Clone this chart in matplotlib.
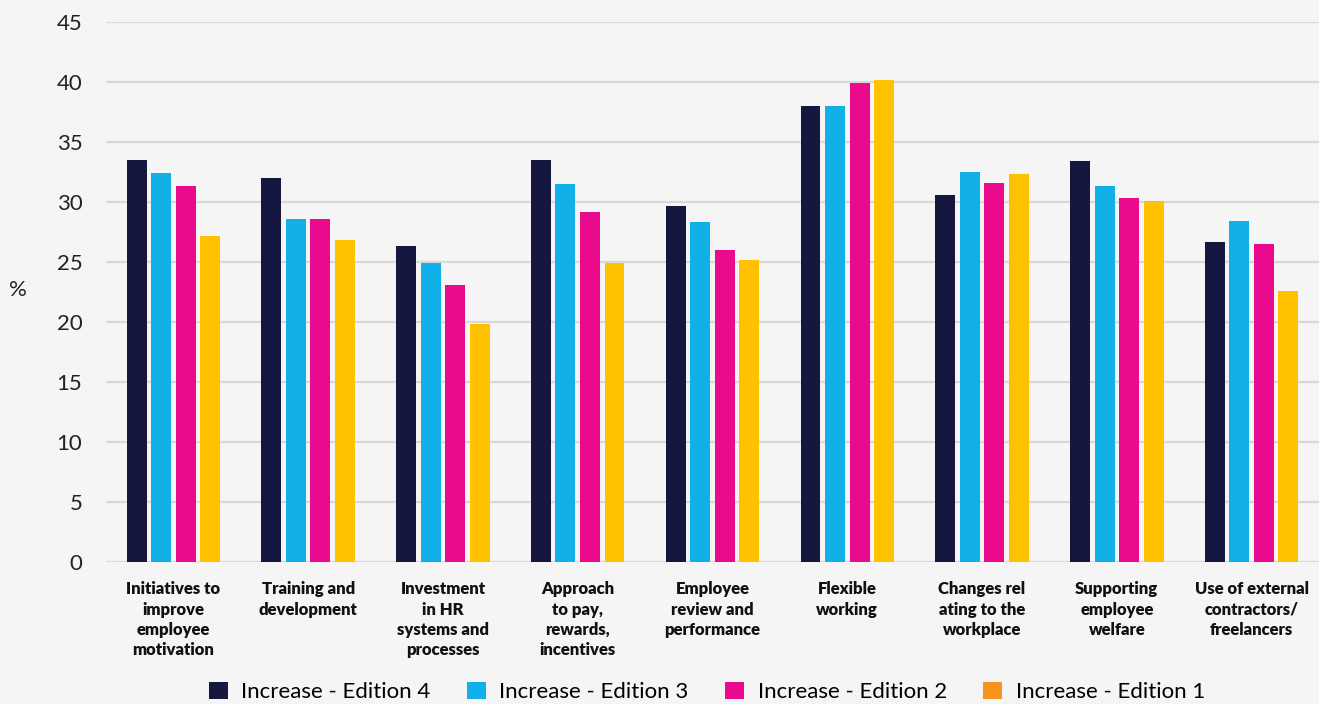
import matplotlib
matplotlib.use("Agg")
import matplotlib.pyplot as plt
import numpy as np
from matplotlib.patches import Patch

categories = [
    "Initiatives to\nimprove\nemployee\nmotivation",
    "Training and\ndevelopment",
    "Investment\nin HR\nsystems and\nprocesses",
    "Approach\nto pay,\nrewards,\nincentives",
    "Employee\nreview and\nperformance",
    "Flexible\nworking",
    "Changes rel\nating to the\nworkplace",
    "Supporting\nemployee\nwelfare",
    "Use of external\ncontractors/\nfreelancers",
]
series_names = ["Increase - Edition 4", "Increase - Edition 3",
                "Increase - Edition 2", "Increase - Edition 1"]
edition4 = [33.5, 32.0, 26.3, 33.5, 29.7, 38.0, 30.6, 33.4, 26.7]
edition3 = [32.4, 28.6, 24.9, 31.5, 28.3, 38.0, 32.5, 31.3, 28.4]
edition2 = [31.3, 28.6, 23.1, 29.2, 26.0, 39.9, 31.6, 30.3, 26.5]
edition1 = [27.2, 26.8, 19.8, 24.9, 25.2, 40.2, 32.3, 30.1, 22.6]
yticks = [0, 5, 10, 15, 20, 25, 30, 35, 40, 45]

bar_colors = ["#16173F", "#12B0E8", "#EA0A8C", "#FFC100"]
legend_colors = ["#16173F", "#12B0E8", "#EA0A8C", "#F7941D"]
bg = "#F5F5F5"

plt.rcParams['font.family'] = ['Lato', 'DejaVu Sans']

fig = plt.figure(figsize=(13.19, 7.04), dpi=100, facecolor=bg)
ax = fig.add_axes([106/1319, (704-562)/704, 1 - 106/1319, (562-22)/704])
ax.set_facecolor(bg)

x = np.arange(len(categories))
pitch = 0.182
width = 0.148
for i, vals in enumerate([edition4, edition3, edition2, edition1]):
    ax.bar(x + (i - 1.5) * pitch, vals, width, color=bar_colors[i], zorder=3)

ax.set_xlim(-0.5, len(categories) - 0.5)
ax.set_ylim(0, 45)
ax.set_yticks(yticks)
ax.set_yticklabels([str(t) for t in yticks], fontsize=16, color="#222222")
ax.yaxis.grid(True, color="#D9D9D9", linewidth=1.6, zorder=0)
ax.set_axisbelow(True)
for s in ax.spines.values():
    s.set_visible(False)
ax.tick_params(axis='y', length=0, pad=17)
ax.tick_params(axis='x', length=0, pad=14)
ax.set_xticks(x)
ax.set_xticklabels(categories, fontsize=12, fontweight='heavy', color="#111111",
                   linespacing=1.32, va='top')
fig.text(18/1319, 1 - 290/704, "%", fontsize=16, color="#222222",
         ha='center', va='center')

handles = [Patch(facecolor=c, edgecolor='none') for c in legend_colors]
fig.legend(handles, series_names, loc='center',
           bbox_to_anchor=(707/1319, 1 - 692/704),
           ncol=4, frameon=False, fontsize=16, handlelength=0.85, handleheight=0.85,
           handletextpad=0.6, columnspacing=1.65, borderaxespad=0)

fig.savefig("out.png", dpi=100, facecolor=bg)
